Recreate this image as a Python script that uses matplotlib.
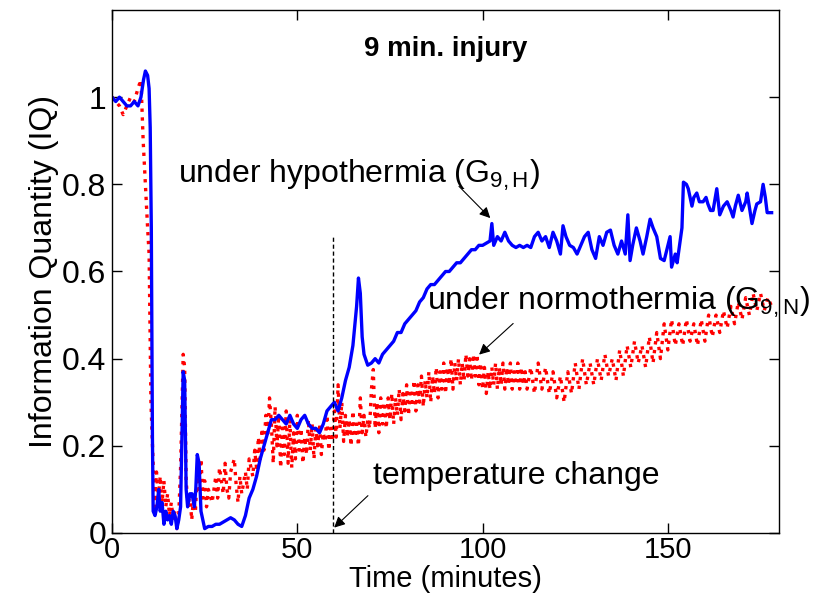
import matplotlib

matplotlib.use("Agg")
import matplotlib.pyplot as plt

plt.rcParams["font.family"] = ["Liberation Sans", "DejaVu Sans"]
plt.rcParams["mathtext.fontset"] = "custom"
plt.rcParams["mathtext.rm"] = "Liberation Sans"
plt.rcParams["mathtext.it"] = "Liberation Sans"

# hypothermia series (G9,H): minutes, IQ
hypo_t = [0, 1, 2, 3, 4, 5, 6, 7, 7.8, 8.5, 9.0, 9.6, 10.0, 10.3, 10.6, 10.9,
          11.1, 11.6, 12.1, 12.6, 13.0, 13.5, 14.0, 14.5, 15.0, 15.5, 16.0, 16.5,
          17.0, 17.5, 18.0, 18.5, 18.9, 19.2, 19.6, 20.0, 20.4, 21.0, 21.6, 22.2,
          22.6, 23.0, 23.5, 24.0, 24.5, 25.0, 26, 27, 28, 29, 30, 31, 32, 33, 34,
          35, 36, 37, 38, 39, 40, 41, 42, 43, 44, 45, 46, 47, 48, 49, 50, 51, 52,
          53, 54, 55, 56, 57, 58, 59, 60, 61, 62, 63, 64, 65, 66, 66.5, 67.0,
          67.5, 68, 69, 70, 71, 72, 73, 74, 75, 76, 77, 78, 79, 80, 81, 82, 83,
          84, 85, 86, 87, 88, 89, 90, 91, 92, 93, 94, 95, 96, 97, 98, 99, 100,
          101, 102, 102.5, 103, 104, 105, 106, 107, 108, 109, 110, 111, 112, 113,
          114, 115, 116, 117, 118, 119, 120, 121, 121.7, 122.5, 123.5, 124.5,
          125.5, 126.5, 127.5, 128.5, 129.5, 130.5, 131.5, 132.5, 133.5, 134.5,
          135.5, 136.5, 137.5, 138.5, 139.2, 139.8, 140.5, 141.5, 142.5, 143.3,
          144.3, 145.2, 146, 147, 148, 149, 150, 150.6, 151, 152, 152.5, 153.3,
          153.8, 154.2, 155, 155.5, 156.5, 157, 157.8, 158.5, 159.5, 160.3, 160.8,
          161.5, 162.2, 163.2, 164, 165, 166, 167, 167.6, 168.2, 169, 170, 171,
          171.4, 172.7, 173.5, 174, 175, 175.7, 176.3, 176.8, 178]
hypo_iq = [1.00, 0.99, 1.00, 0.99, 0.98, 0.98, 0.99, 0.98, 1.00, 1.04, 1.06, 1.05,
           1.02, 0.93, 0.70, 0.22, 0.05, 0.04, 0.06, 0.10, 0.05, 0.07, 0.02, 0.05,
           0.03, 0.04, 0.02, 0.05, 0.04, 0.01, 0.03, 0.06, 0.24, 0.37, 0.35, 0.10,
           0.06, 0.09, 0.09, 0.06, 0.10, 0.18, 0.16, 0.05, 0.03, 0.01, 0.015, 0.015,
           0.02, 0.02, 0.025, 0.03, 0.035, 0.03, 0.02, 0.015, 0.04, 0.08, 0.10,
           0.13, 0.17, 0.20, 0.23, 0.26, 0.26, 0.27, 0.26, 0.25, 0.27, 0.25, 0.24,
           0.26, 0.27, 0.25, 0.24, 0.24, 0.23, 0.25, 0.28, 0.29, 0.30, 0.28, 0.31,
           0.35, 0.38, 0.43, 0.52, 0.585, 0.55, 0.45, 0.41, 0.385, 0.39, 0.40,
           0.39, 0.41, 0.42, 0.43, 0.44, 0.46, 0.46, 0.48, 0.49, 0.50, 0.51, 0.53,
           0.54, 0.56, 0.57, 0.57, 0.58, 0.59, 0.60, 0.60, 0.61, 0.62, 0.62, 0.63,
           0.64, 0.65, 0.65, 0.66, 0.66, 0.665, 0.67, 0.71, 0.66, 0.68, 0.67, 0.69,
           0.67, 0.66, 0.655, 0.66, 0.655, 0.66, 0.655, 0.68, 0.69, 0.67, 0.68,
           0.655, 0.69, 0.67, 0.64, 0.705, 0.68, 0.66, 0.655, 0.64, 0.66, 0.68,
           0.69, 0.65, 0.63, 0.68, 0.66, 0.69, 0.695, 0.66, 0.64, 0.67, 0.64, 0.73,
           0.625, 0.66, 0.70, 0.67, 0.64, 0.68, 0.72, 0.70, 0.68, 0.63, 0.625, 0.66,
           0.68, 0.61, 0.64, 0.62, 0.67, 0.70, 0.805, 0.80, 0.79, 0.75, 0.77, 0.78,
           0.76, 0.76, 0.77, 0.755, 0.74, 0.74, 0.79, 0.73, 0.75, 0.76, 0.74, 0.725,
           0.75, 0.775, 0.74, 0.76, 0.78, 0.71, 0.74, 0.755, 0.76, 0.80, 0.77,
           0.735, 0.735]

# normothermia series (G9,N), noisy: consecutive samples jump up and down
normo_t = [0, 1, 2, 3, 4, 5, 6, 7, 7.8, 8.4, 9, 9.6, 10, 10.5, 11, 11.5, 12, 12.5,
           13, 13.5, 14, 14.5, 15, 15.5, 16, 16.5, 17, 17.5, 18, 18.5, 18.9, 19.2,
           19.6, 20, 20.5, 21, 21.5, 22, 22.5, 23, 23.5, 24, 24.5, 25, 25.5, 26, 27,
           28, 28.5, 29, 30, 30.5, 31, 31.5, 32, 33, 33.5, 34, 34.5, 35, 36, 36.5,
           37, 38, 38.5, 39, 39.5, 40, 40.5, 41, 41.5, 42, 42.5, 43, 43.5, 44, 44.5,
           45, 45.5, 46, 46.5, 47, 47.5, 48, 48.5, 49, 49.5, 50, 50.5, 51, 51.5, 52,
           52.5, 53, 53.5, 54, 54.5, 55, 55.5, 56, 56.5, 57, 57.5, 58, 58.5, 59,
           59.5, 60, 60.5, 61, 61.5, 62, 62.5, 63, 63.5, 64, 64.5, 65, 65.5, 66,
           66.5, 67, 67.5, 68, 68.5, 69, 69.5, 70, 70.5,
           71, 71.5, 72, 72.5, 73, 73.5, 74, 74.5, 75, 75.5, 76, 76.5, 77, 77.5,
           78, 78.5, 79, 79.5, 80, 80.5, 81, 81.5, 82, 82.5, 83, 83.5, 84, 84.5,
           85, 85.5, 86, 86.5, 87, 87.5, 88, 88.5, 89, 89.5, 90, 90.5, 91, 91.5,
           92, 92.5, 93, 93.5, 94, 94.5, 95, 95.5, 96, 96.5, 97, 97.5, 98, 98.5,
           99, 99.5, 100, 100.5, 101, 101.5, 102, 102.5, 103, 103.5, 104, 104.5,
           105, 105.5, 106, 106.5, 107, 107.5, 108, 108.5, 109, 109.5, 110, 110.5,
           111, 111.5, 112,
           113, 114, 115, 116, 117, 118, 119, 120, 121, 122, 123, 124, 125, 126,
           127, 128, 129, 130, 131, 132, 133, 134, 135, 136, 137, 138, 139, 140,
           141, 142, 143, 144, 145, 146, 147, 148, 149, 150, 151, 152, 153, 154,
           155, 156, 157, 158, 159, 160, 161, 162, 163, 164, 165, 166, 167, 168,
           169, 170, 171, 172, 173, 174, 175, 176, 177, 178]
normo_iq = [1.00, 0.99, 0.98, 0.96, 0.98, 1.00, 0.99, 1.02, 1.04, 0.90, 0.80, 0.70,
            0.64, 0.30, 0.18, 0.06, 0.14, 0.08, 0.13, 0.07, 0.12, 0.06, 0.09, 0.04,
            0.07, 0.03, 0.05, 0.01, 0.04, 0.15, 0.30, 0.41, 0.38, 0.12, 0.06, 0.09,
            0.03, 0.08, 0.05, 0.14, 0.10, 0.17, 0.08, 0.12, 0.06, 0.10, 0.07, 0.13,
            0.08, 0.15, 0.09, 0.16, 0.10, 0.08, 0.14, 0.17, 0.11, 0.07, 0.13, 0.09,
            0.14, 0.10, 0.17, 0.13, 0.19, 0.15, 0.22, 0.17, 0.24, 0.19, 0.27, 0.22,
            0.31, 0.25, 0.16, 0.29, 0.20, 0.27, 0.15, 0.25, 0.18, 0.28, 0.16, 0.26,
            0.15, 0.23, 0.17, 0.27, 0.19, 0.24, 0.16, 0.22, 0.18, 0.26, 0.19, 0.25,
            0.17, 0.24, 0.20, 0.25, 0.18, 0.23, 0.21, 0.27, 0.19, 0.24, 0.21, 0.28,
            0.22, 0.34, 0.24, 0.30, 0.21, 0.27, 0.22, 0.26, 0.20, 0.28, 0.22, 0.25,
            0.20, 0.31, 0.23, 0.27, 0.22, 0.26, 0.24, 0.33, 0.375,
            0.24, 0.30, 0.23, 0.31, 0.25, 0.30, 0.24, 0.31, 0.26, 0.32, 0.25, 0.31,
            0.27, 0.33, 0.26, 0.32, 0.28, 0.34, 0.27, 0.33, 0.29, 0.35, 0.28, 0.34,
            0.30, 0.36, 0.29, 0.35, 0.31, 0.37, 0.30, 0.36, 0.32, 0.38, 0.31, 0.37,
            0.33, 0.39, 0.32, 0.38, 0.34, 0.40, 0.33, 0.39, 0.35, 0.40, 0.34, 0.39,
            0.35, 0.41, 0.36, 0.40, 0.35, 0.41, 0.36, 0.41, 0.34, 0.39, 0.33, 0.38,
            0.32, 0.37, 0.33, 0.38, 0.34, 0.39, 0.33, 0.38, 0.34, 0.39, 0.33, 0.38,
            0.34, 0.39, 0.33, 0.37, 0.34, 0.39, 0.33, 0.38, 0.34, 0.37, 0.33,
            0.38, 0.32, 0.39, 0.33, 0.38, 0.32, 0.37, 0.31, 0.36, 0.30, 0.37, 0.32,
            0.39, 0.33, 0.40, 0.34, 0.39, 0.34, 0.40, 0.35, 0.41, 0.36, 0.40, 0.35,
            0.42, 0.36, 0.43, 0.38, 0.44, 0.39, 0.43, 0.38, 0.45, 0.39, 0.46, 0.40,
            0.48, 0.42, 0.49, 0.43, 0.48, 0.43, 0.49, 0.44, 0.48, 0.43, 0.49, 0.44,
            0.50, 0.45, 0.50, 0.46, 0.51, 0.47, 0.52, 0.48, 0.53, 0.49, 0.54, 0.50,
            0.55, 0.51, 0.55, 0.51, 0.54, 0.52]

x_ticks = [0, 50, 100, 150]
y_ticks = [0, 0.2, 0.4, 0.6, 0.8, 1.0]
y_tick_labels = ["0", "0.2", "0.4", "0.6", "0.8", "1"]
temp_change_t = 59.5

fig = plt.figure(figsize=(8.16, 5.99), dpi=100)
ax = fig.add_axes([0.1373, 0.1102, 0.8174, 0.8731])

ax.plot(normo_t, normo_iq, color="#ff0000", linestyle=":", linewidth=2.4)
ax.plot(hypo_t, hypo_iq, color="#0000ff", linestyle="-", linewidth=2.4)
ax.plot([temp_change_t, temp_change_t], [0, 0.68], color="black",
        linestyle="--", linewidth=1, dashes=(3, 2))

ax.set_xlim(0, 180)
ax.set_ylim(0, 1.2)
ax.set_xticks(x_ticks)
ax.set_yticks(y_ticks)
ax.set_yticklabels(y_tick_labels)
ax.tick_params(direction="in", length=7, width=1, top=True, right=True,
               labelsize=23, pad=4)
ax.tick_params(axis="x", labelsize=21, pad=2)
for s in ax.spines.values():
    s.set_linewidth(1)

ax.set_xlabel("Time (minutes)", fontsize=21, labelpad=1)
ax.set_ylabel("Information Quantity (IQ)", fontsize=23, labelpad=2)

ax.text(90.0, 1.11, "9 min. injury", fontsize=20, fontweight="bold",
        ha="center", va="center")

arrow = dict(arrowstyle="-|>", color="black", lw=0.8, mutation_scale=16)
ax.annotate("", xy=(102.6, 0.718), xytext=(93.1, 0.80), arrowprops=arrow)
ax.annotate("", xy=(98.5, 0.405), xytext=(108.8, 0.485), arrowprops=arrow)
ax.annotate("", xy=(59.4, 0.008), xytext=(69.6, 0.09), arrowprops=arrow)

ax.text(17.8, 0.82, r"under hypothermia (G$_{\mathrm{9,H}}$)", fontsize=23,
        ha="left", va="center")
ax.text(85.0, 0.53, r"under normothermia (G$_{\mathrm{9,N}}$)", fontsize=23,
        ha="left", va="center")
ax.text(70.4, 0.13, "temperature change", fontsize=23, ha="left",
        va="center")

fig.savefig("out.png", dpi=100)
